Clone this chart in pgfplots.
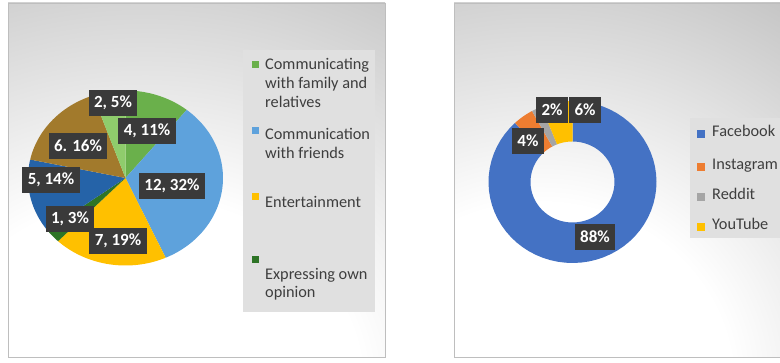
\documentclass[border=0pt]{standalone}
\usepackage{pgfplots}
\pgfplotsset{compat=1.18}
\usepackage{pgfplotstable}
\usepackage{fontspec}
\setmainfont{Carlito}

\definecolor{panelgray}{HTML}{C4C4C4}
\definecolor{panelline}{HTML}{BEBEBE}
\definecolor{legbg}{HTML}{E0E0E0}
\definecolor{legtext}{HTML}{3E3E3E}
\definecolor{labelbg}{HTML}{3A3A3A}
\definecolor{lc0}{HTML}{6AB04B}
\definecolor{lc1}{HTML}{5EA2DC}
\definecolor{lc2}{HTML}{FFC000}
\definecolor{lc3}{HTML}{2E7426}
\definecolor{lc4}{HTML}{2563A8}
\definecolor{lc5}{HTML}{A27A2C}
\definecolor{lc6}{HTML}{8FCC6C}
\definecolor{dc0}{HTML}{4472C4}
\definecolor{dc1}{HTML}{ED7D31}
\definecolor{dc2}{HTML}{A5A5A5}
\definecolor{dc3}{HTML}{FFC000}

\pgfdeclareradialshading{glow}{\pgfpoint{0bp}{0bp}}{color(0bp)=(white); color(10bp)=(white); color(25bp)=(panelgray); color(50bp)=(panelgray)}

% uses of social media (count)
\pgfplotstableread{
v
4
12
7
1
5
6
2
}\tabUses
% platforms (percent)
\pgfplotstableread{
v
88
4
2
6
}\tabPlat

\newcommand\piesetup[2]{%
  \gdef\pietotal{0}%
  \pgfplotstableforeachcolumnelement{v}\of#1\as\val{%
    \pgfmathsetmacro\tmp{\pietotal+\val}\xdef\pietotal{\tmp}}%
  \gdef\piecum{0}%
  \pgfplotstableforeachcolumnelement{v}\of#1\as\val{%
    \pgfmathsetmacro\tmpa{90-360*(\piecum/\pietotal)}%
    \pgfmathsetmacro\tmp{\piecum+\val}\xdef\piecum{\tmp}%
    \pgfmathsetmacro\tmpb{90-360*(\piecum/\pietotal)}%
    \expandafter\xdef\csname #2A\pgfplotstablerow\endcsname{\tmpa}%
    \expandafter\xdef\csname #2B\pgfplotstablerow\endcsname{\tmpb}%
  }%
}
\def\angAt#1#2#3{(\csname #1A#2\endcsname+(\csname #1B#2\endcsname-\csname #1A#2\endcsname)*#3)}

\tikzset{
  lbl/.style={fill=labelbg, text=white, font=\fontsize{17}{19}\selectfont\bfseries,
    inner xsep=5.5pt, inner ysep=0pt, minimum height=26pt},
  legtxt/.style={anchor=mid west, inner sep=0pt, text=legtext, font=\fontsize{16.3}{19}\selectfont},
}

\begin{document}
\piesetup{\tabUses}{L}%
\piesetup{\tabPlat}{D}%
\begin{tikzpicture}
\useasboundingbox (0,0) rectangle (780pt,363pt);
\fill[white] (0,0) rectangle (780pt,363pt);
% left panel background
\begin{scope}
  \clip (8pt,6pt) rectangle (385pt,360pt);
  \fill[panelgray] (8pt,6pt) rectangle (385pt,360pt);
  \shade[shading=glow] (145pt,-20pt) ellipse (540pt and 460pt);
\end{scope}
\draw[panelline, line width=0.8pt] (8pt,6pt) rectangle (385pt,360pt);
% right panel background
\begin{scope}
  \clip (454pt,6pt) rectangle (781pt,360pt);
  \fill[panelgray] (454pt,6pt) rectangle (781pt,360pt);
  \shade[shading=glow] (540pt,-20pt) ellipse (480pt and 450pt);
\end{scope}
\draw[panelline, line width=0.8pt] (781pt,6pt) -- (454pt,6pt) -- (454pt,360pt) -- (781pt,360pt);

% ---------- pie ----------
\begin{axis}[at={(125.5pt,185pt)}, anchor=center, x=97.5pt, y=87.5pt,
  xmin=-1.05, xmax=1.05, ymin=-1.05, ymax=1.05, hide axis, clip=false]
\pgfplotsinvokeforeach{0,...,6}{%
  \fill[lc#1] (axis cs:0,0) \foreach \k in {0,...,60}{ -- (axis cs:{cos(\angAt{L}{#1}{\k/60})},{sin(\angAt{L}{#1}{\k/60})}) } -- cycle;
}
\node[lbl] at (axis cs:-0.128,0.857) {2, 5\%};
\node[lbl] at (axis cs:0.221,0.537) {4, 11\%};
\node[lbl] at (axis cs:-0.487,0.366) {6. 16\%};
\node[lbl] at (axis cs:-0.764,-0.023) {5, 14\%};
\node[lbl] at (axis cs:0.477,-0.091) {12, 32\%};
\node[lbl] at (axis cs:-0.569,-0.469) {1, 3\%};
\node[lbl] at (axis cs:-0.077,-0.72) {7, 19\%};
\end{axis}

% ---------- donut ----------
\begin{axis}[at={(572.5pt,181pt)}, anchor=center, x=84pt, y=81pt,
  xmin=-1.05, xmax=1.05, ymin=-1.05, ymax=1.05, hide axis, clip=false]
\pgfplotsinvokeforeach{0,...,3}{%
  \fill[dc#1] (axis cs:{cos(\angAt{D}{#1}{0})},{sin(\angAt{D}{#1}{0})})
    \foreach \k in {1,...,60}{ -- (axis cs:{cos(\angAt{D}{#1}{\k/60})},{sin(\angAt{D}{#1}{\k/60})}) }
    \foreach \k in {60,59,...,0}{ -- (axis cs:{0.5*cos(\angAt{D}{#1}{\k/60})},{0.5*sin(\angAt{D}{#1}{\k/60})}) } -- cycle;
}
\node[lbl] at (axis cs:-0.244,0.889) {2\%};
\node[lbl] at (axis cs:0.149,0.889) {6\%};
\node[lbl] at (axis cs:-0.530,0.506) {4\%};
\node[lbl] at (axis cs:0.268,-0.679) {88\%};
\end{axis}

% ---------- left legend ----------
\fill[legbg] (243pt,51pt) rectangle (375pt,313pt);
\fill[lc0] (251.5pt,294.5pt) rectangle (258.5pt,301.5pt);
\node[legtxt] at (265pt,296pt) {Communicating};
\node[legtxt] at (265pt,277pt) {with family and};
\node[legtxt] at (265pt,258pt) {relatives};
\fill[lc1] (251.5pt,229pt) rectangle (258.5pt,236pt);
\node[legtxt] at (265pt,226pt) {Communication};
\node[legtxt] at (265pt,207pt) {with friends};
\fill[lc2] (251.5pt,163pt) rectangle (258.5pt,170pt);
\node[legtxt] at (265pt,158pt) {Entertainment};
\fill[lc3] (251.5pt,99.5pt) rectangle (258.5pt,106.5pt);
\node[legtxt] at (265pt,86pt) {Expressing own};
\node[legtxt] at (265pt,68pt) {opinion};

% ---------- right legend ----------
\fill[legbg] (690pt,125pt) rectangle (781pt,245pt);
\fill[dc0] (697pt,224.5pt) rectangle (705pt,232.5pt);
\node[legtxt] at (712pt,228.5pt) {Facebook};
\fill[dc1] (697pt,192pt) rectangle (705pt,200pt);
\node[legtxt] at (712pt,196pt) {Instagram};
\fill[dc2] (697pt,162pt) rectangle (705pt,170pt);
\node[legtxt] at (712pt,166pt) {Reddit};
\fill[dc3] (697pt,132pt) rectangle (705pt,140pt);
\node[legtxt] at (712pt,136pt) {YouTube};
\end{tikzpicture}
\end{document}
